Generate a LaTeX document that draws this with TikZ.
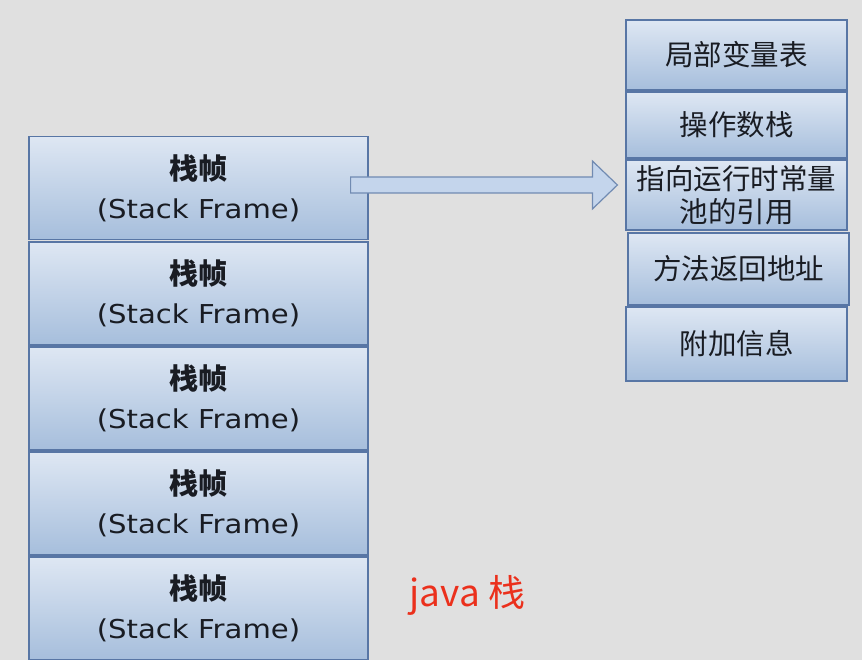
\documentclass[tikz,border=0pt]{standalone}
\usepackage{fontspec}
\usepackage{tikz}
\usepackage{xcolor}
\usetikzlibrary{calc}
\newfontfamily\cjk{Noto Sans CJK SC}
\newfontfamily\latinsf[FakeStretch=1.12]{DejaVu Sans}
\definecolor{paper}{RGB}{224, 224, 224}
\definecolor{boxtop}{RGB}{222, 231, 243}
\definecolor{boxbot}{RGB}{166, 190, 220}
\definecolor{border}{RGB}{88, 118, 165}
\definecolor{arrfill}{RGB}{196, 213, 236}
\definecolor{ink}{RGB}{25, 28, 35}
\definecolor{alert}{RGB}{235, 48, 28}
\tikzset{
    frame/.style={rectangle, draw=border, line width=1.2pt, top color=boxtop, bottom color=boxbot, minimum width=339pt, minimum height=103pt, align=center, inner sep=0pt, text=ink, font=\latinsf\fontsize{26}{39}\selectfont},
    part/.style={rectangle, draw=border, line width=1.2pt, top color=boxtop, bottom color=boxbot, minimum width=221pt, align=center, inner sep=0pt, text=ink, font=\cjk\fontsize{28.5}{33}\selectfont},
    bigarr/.style={draw=border!85, fill=arrfill, line width=1.2pt, line join=miter}
}
\newcommand{\framelabel}{{\cjk\bfseries\fontsize{29}{39}\selectfont 栈帧}\\(Stack Frame)}

\begin{document}
\begin{tikzpicture}[x=1pt, y=-1pt]
    \fill[paper] (0,0) rectangle (862,660);
    \useasboundingbox (0,0) rectangle (862,660);
    % java stack
    \node[frame] (f1) at (198.5,188) {\framelabel};
    \node[frame] (f2) at (198.5,293.5) {\framelabel};
    \node[frame] (f3) at (198.5,398.5) {\framelabel};
    \node[frame] (f4) at (198.5,503.5) {\framelabel};
    \node[frame] (f5) at (198.5,608.5) {\framelabel};
    \node[text=alert, font=\cjk\fontsize{37}{40}\selectfont, anchor=west] (title) at (406,595) {java 栈};
    % parts of one frame
    \node[part, minimum height=70pt] (r1) at (736.5,55) {局部变量表};
    \node[part, minimum height=66pt] (r2) at (736.5,125) {操作数栈};
    \node[part, minimum height=70pt] (r3) at (736.5,195) {指向运行时常量\\池的引用};
    \node[part, minimum height=72pt] (r4) at (738.5,269) {方法返回地址};
    \node[part, minimum height=74pt] (r5) at (736.5,344) {附加信息};
    % block arrow
    \coordinate (tail) at ($(f1.east)+(-18,-3)$);
    \coordinate (tip) at ($(r3.west)+(-8,-10)$);
    \draw[bigarr] ($(tail)+(0,-8)$) -- ($(tip)+(-25,-8)$) -- ($(tip)+(-25,-24)$) -- (tip)
        -- ($(tip)+(-25,24)$) -- ($(tip)+(-25,8)$) -- ($(tail)+(0,8)$) -- cycle;
\end{tikzpicture}
\end{document}
